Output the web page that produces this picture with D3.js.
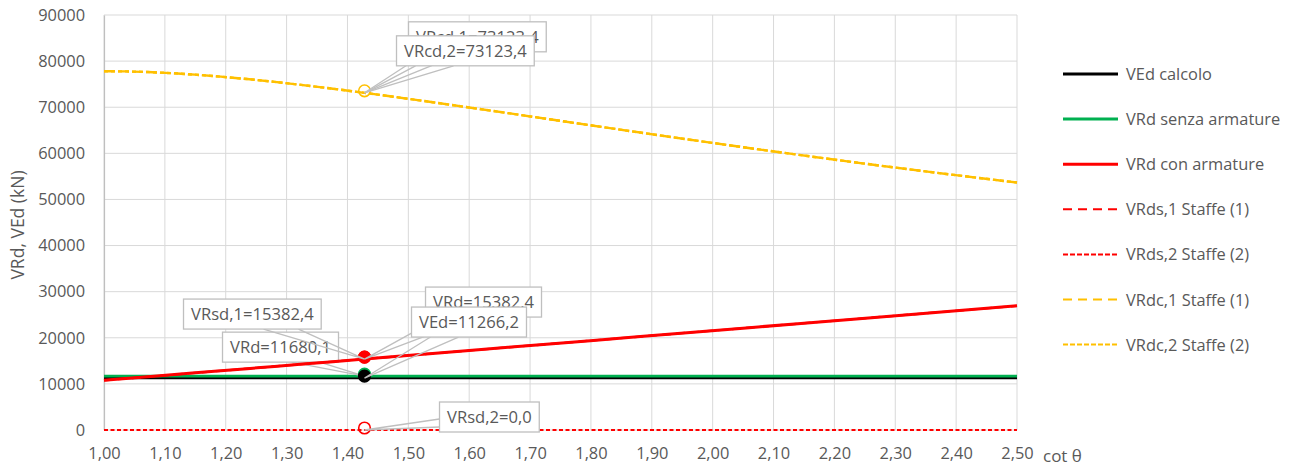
<!DOCTYPE html>
<html>
<head>
<meta charset="utf-8">
<script src="https://cdn.jsdelivr.net/npm/d3@7"></script>
<style>
  html, body { margin: 0; padding: 0; background: #fff; }
  svg { display: block; font-family: "Open Sans", sans-serif; }
</style>
</head>
<body>
<svg id="chart" width="1294" height="468"></svg>
<script>
// ---- data ----
const cotTheta = [1.000, 1.036, 1.072, 1.111, 1.150, 1.192, 1.235, 1.280, 1.327, 1.376, 1.428,
                  1.483, 1.540, 1.600, 1.664, 1.732, 1.804, 1.881, 1.963, 2.050, 2.145, 2.246,
                  2.356, 2.475, 2.500];
const vEdCalcolo = [11266.2, 11266.2, 11266.2, 11266.2, 11266.2, 11266.2, 11266.2, 11266.2, 11266.2,
                    11266.2, 11266.2, 11266.2, 11266.2, 11266.2, 11266.2, 11266.2, 11266.2, 11266.2,
                    11266.2, 11266.2, 11266.2, 11266.2, 11266.2, 11266.2, 11266.2];
const vRdSenza = [11680.1, 11680.1, 11680.1, 11680.1, 11680.1, 11680.1, 11680.1, 11680.1, 11680.1,
                  11680.1, 11680.1, 11680.1, 11680.1, 11680.1, 11680.1, 11680.1, 11680.1, 11680.1,
                  11680.1, 11680.1, 11680.1, 11680.1, 11680.1, 11680.1, 11680.1];
const vRdCon = [10772, 11160, 11550, 11965, 12390, 12840, 13300, 13790, 14295, 14825, 15382.4,
                15970, 16590, 17235, 17925, 18655, 19430, 20260, 21145, 22085, 23105, 24195,
                25380, 26660, 26930];
const vRds1 = [10772, 11160, 11550, 11965, 12390, 12840, 13300, 13790, 14295, 14825, 15382.4,
               15970, 16590, 17235, 17925, 18655, 19430, 20260, 21145, 22085, 23105, 24195,
               25380, 26660, 26930];
const vRds2 = [0, 0, 0, 0, 0, 0, 0, 0, 0, 0, 0, 0, 0, 0, 0, 0, 0, 0, 0, 0, 0, 0, 0, 0, 0];
const vRdc1 = [77815, 77766, 77627, 77387, 77061, 76630, 76114, 75503, 74802, 74012, 73123.4,
               72141, 71085, 69947, 68712, 67391, 65992, 64505, 62946, 61324, 59601, 57828,
               55973, 54056, 53665];
const vRdc2 = [77815, 77766, 77627, 77387, 77061, 76630, 76114, 75503, 74802, 74012, 73123.4,
               72141, 71085, 69947, 68712, 67391, 65992, 64505, 62946, 61324, 59601, 57828,
               55973, 54056, 53665];
const selectedIndex = 10; // cot θ of the highlighted design point
const xTicks = [1.0, 1.1, 1.2, 1.3, 1.4, 1.5, 1.6, 1.7, 1.8, 1.9, 2.0, 2.1, 2.2, 2.3, 2.4, 2.5];
const yTicks = [0, 10000, 20000, 30000, 40000, 50000, 60000, 70000, 80000, 90000];
const seriesNames = ["VEd calcolo", "VRd senza armature", "VRd con armature",
                     "VRds,1 Staffe (1)", "VRds,2 Staffe (2)", "VRdc,1 Staffe (1)", "VRdc,2 Staffe (2)"];

// ---- setup ----
const svg = d3.select("#chart");
const x = d3.scaleLinear().domain([1.0, 2.5]).range([104, 1017]);
const y = d3.scaleLinear().domain([0, 90000]).range([430, 15]);
const fmtX = v => d3.format(".2f")(v).replace(".", ",");
const fmtV = v => d3.format(".1f")(v).replace(".", ",");
const textColor = "#595959";
const RED = "#ff0000", GREEN = "#00b050", YEL = "#ffc000", BLK = "#000000";

// gridlines
const grid = svg.append("g");
grid.selectAll("line.h").data(yTicks).join("line")
  .attr("x1", x(1.0)).attr("x2", x(2.5))
  .attr("y1", d => y(d)).attr("y2", d => y(d))
  .attr("stroke", "#d9d9d9").attr("stroke-width", 1);
grid.selectAll("line.v").data(xTicks).join("line")
  .attr("y1", y(0)).attr("y2", y(90000))
  .attr("x1", d => x(d)).attr("x2", d => x(d))
  .attr("stroke", "#d9d9d9").attr("stroke-width", 1);

// axes (labels only)
const yAxis = d3.axisLeft(y).tickValues(yTicks).tickSize(0).tickPadding(19).tickFormat(d3.format("d"));
const gy = svg.append("g").attr("transform", `translate(${x(1.0)},0)`).call(yAxis);
gy.select(".domain").attr("stroke", "#bfbfbf").attr("stroke-width", 1.2);
gy.selectAll("text").attr("fill", textColor).style("font-size", "16.4px").style("font-family", "Open Sans");

const xAxis = d3.axisBottom(x).tickValues(xTicks).tickSize(0).tickPadding(17).tickFormat(fmtX);
const gx = svg.append("g").attr("transform", `translate(0,${y(0)})`).call(xAxis);
gx.select(".domain").remove();
gx.selectAll("text").attr("fill", textColor).style("font-size", "16.4px").style("font-family", "Open Sans");

svg.append("text").attr("x", 1043).attr("y", 462).attr("fill", textColor)
  .style("font-size", "17px").text("cot θ");
svg.append("text").attr("transform", "translate(24,225) rotate(-90)")
  .attr("text-anchor", "middle").attr("fill", textColor)
  .style("font-size", "17.5px").text("VRd, VEd (kN)");

// helpers
const pts = vals => cotTheta.map((c, i) => [c, vals[i]]);
const line = d3.line().x(d => x(d[0])).y(d => y(d[1]));
function drawSeries(vals, color, width, dash) {
  svg.append("path").datum(pts(vals)).attr("d", line)
    .attr("fill", "none").attr("stroke", color).attr("stroke-width", width)
    .attr("stroke-dasharray", dash || null).attr("stroke-linejoin", "round");
}
function drawLabel(text, series, dx, dy, wedge) {
  const px = x(cotTheta[selectedIndex]);
  const py = y(series[selectedIndex]);
  const g = svg.append("g");
  const t = g.append("text").attr("fill", textColor).style("font-size", "16.6px").text(text);
  const tw = t.node().getComputedTextLength();
  const bw = tw + 15, bh = 30;
  const bx = px + dx, by = py + dy;
  let b1, b2;
  if (wedge.side === "bottom") { b1 = [bx + wedge.a, by + bh]; b2 = [bx + wedge.b, by + bh]; }
  else { b1 = [bx, by + wedge.a]; b2 = [bx, by + wedge.b]; }
  g.insert("path", "text")
    .attr("d", `M${b1[0]},${b1[1]}L${px},${py}L${b2[0]},${b2[1]}`)
    .attr("fill", "none").attr("stroke", "#bfbfbf").attr("stroke-width", 1.3);
  g.insert("rect", "text").attr("x", bx).attr("y", by).attr("width", bw).attr("height", bh)
    .attr("fill", "#fff").attr("stroke", "#bfbfbf").attr("stroke-width", 1.3);
  t.attr("x", bx + 7.5).attr("y", by + 21);
}
function drawMarker(series, color, filled) {
  svg.append("circle")
    .attr("cx", x(cotTheta[selectedIndex])).attr("cy", y(series[selectedIndex]) - 2).attr("r", 5.8)
    .attr("fill", filled ? color : "none").attr("stroke", color).attr("stroke-width", 1.6);
}

// series lines
drawSeries(vEdCalcolo, BLK, 2.6);
drawSeries(vRdSenza, GREEN, 2.6);
drawLabel("VRd=" + fmtV(vRdSenza[selectedIndex]), vRdSenza, -142, -44, {side: "bottom", a: 69, b: 97});
drawSeries(vRds1, RED, 2.2, "9,5");
drawSeries(vRdCon, RED, 3);
drawSeries(vRds2, RED, 2.2, "4,2.5");
drawSeries(vRdc2, YEL, 2.4, "4,3,4,3");
drawSeries(vRdc1, YEL, 2.4, "11,3");

// markers
drawMarker(vRdSenza, GREEN, true);
drawMarker(vEdCalcolo, BLK, true);
drawMarker(vRds1, RED, true);
drawMarker(vRdCon, RED, true);
drawMarker(vRds2, RED, false);
drawMarker(vRdc1, YEL, false);

// data labels
drawLabel("VRsd,1=" + fmtV(vRds1[selectedIndex]), vRds1, -181, -60, {side: "bottom", a: 80, b: 115});
drawLabel("VRd=" + fmtV(vRdCon[selectedIndex]), vRdCon, 61, -72, {side: "bottom", a: 15, b: 50});
drawLabel("VEd=" + fmtV(vEdCalcolo[selectedIndex]), vEdCalcolo, 47, -71, {side: "bottom", a: 19, b: 47});
drawLabel("VRsd,2=" + fmtV(vRds2[selectedIndex]), vRds2, 75, -28, {side: "left", a: 17, b: 25});
drawLabel("VRcd,1=" + fmtV(vRdc1[selectedIndex]), vRdc1, 44, -71, {side: "bottom", a: 19, b: 57});
drawLabel("VRcd,2=" + fmtV(vRdc2[selectedIndex]), vRdc2, 32, -57, {side: "bottom", a: 19, b: 57});

// legend
const legendStyles = [
  {color: BLK, width: 3, dash: null},
  {color: GREEN, width: 3, dash: null},
  {color: RED, width: 3, dash: null},
  {color: RED, width: 2, dash: "9,6"},
  {color: RED, width: 2, dash: "5,2"},
  {color: YEL, width: 2, dash: "9,6"},
  {color: YEL, width: 2, dash: "5,2"}
];
const legend = svg.append("g").attr("transform", "translate(1063,74)");
const items = legend.selectAll("g").data(seriesNames).join("g")
  .attr("transform", (d, i) => `translate(0,${i * 45.1})`);
items.append("line").attr("x1", 0).attr("x2", 55).attr("y1", 0).attr("y2", 0)
  .attr("stroke", (d, i) => legendStyles[i].color)
  .attr("stroke-width", (d, i) => legendStyles[i].width)
  .attr("stroke-dasharray", (d, i) => legendStyles[i].dash);
items.append("text").attr("x", 63).attr("y", 6).attr("fill", textColor)
  .style("font-size", "16.4px").text(d => d);
</script>
</body>
</html>
